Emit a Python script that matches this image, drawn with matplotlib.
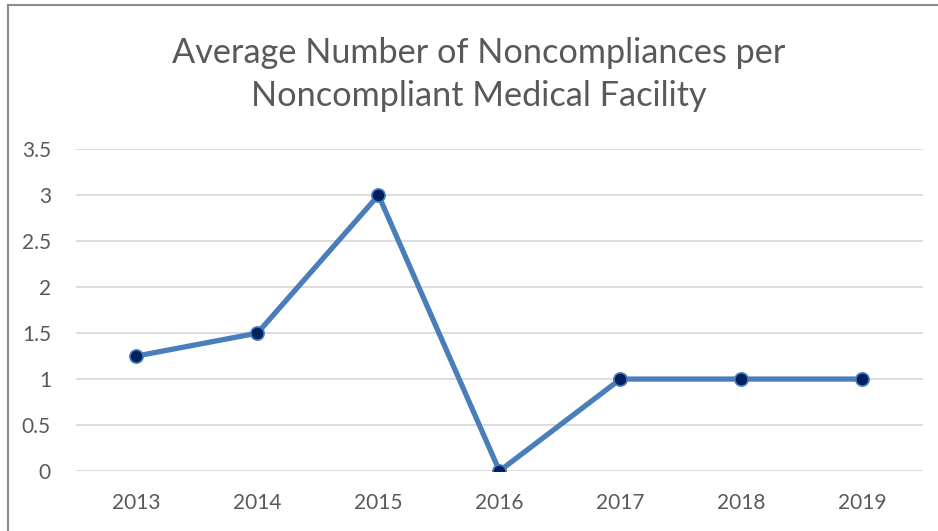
import matplotlib.pyplot as plt
from matplotlib.lines import Line2D

years = ["2013", "2014", "2015", "2016", "2017", "2018", "2019"]
avg_noncompliances = [1.25, 1.5, 3, 0, 1, 1, 1]
y_ticks = [0, 0.5, 1, 1.5, 2, 2.5, 3, 3.5]
y_tick_labels = ["0", "0.5", "1", "1.5", "2", "2.5", "3", "3.5"]

plt.rcParams["font.family"] = ["Lato", "DejaVu Sans"]

fig = plt.figure(figsize=(9.38, 5.31), dpi=100)
ax = fig.add_axes([0.081, 0.113, 0.903, 0.606])

x = range(len(years))
ax.plot(x, avg_noncompliances, color="#4a7ebb", linewidth=3.8,
        marker="o", markersize=9.5, markerfacecolor="#002060",
        markeredgecolor="#4a7ebb", markeredgewidth=1.2, zorder=3)

ax.set_xlim(-0.5, len(years) - 0.5)
ax.set_ylim(0, 3.5)
ax.set_xticks(list(x))
ax.set_xticklabels(years)
ax.set_yticks(y_ticks)
ax.set_yticklabels(y_tick_labels)
ax.tick_params(length=0, labelsize=15, colors="#595959")
ax.tick_params(axis="x", pad=16)
ax.tick_params(axis="y", pad=18)
for lbl in ax.get_yticklabels():
    lbl.set_horizontalalignment("right")
ax.grid(axis="y", color="#d9d9d9", linewidth=1.3)
ax.set_axisbelow(True)
for s in ax.spines.values():
    s.set_visible(False)

fig.text(0.51, 0.86, "Average Number of Noncompliances per\nNoncompliant Medical Facility",
         ha="center", va="center", fontsize=24.7, color="#595959", linespacing=1.42)

# chart frame (left and top edges visible)
fig.add_artist(Line2D([8 / 938, 8 / 938], [0, 1 - 5 / 531], transform=fig.transFigure,
                      color="#8c8c8c", linewidth=1.5))
fig.add_artist(Line2D([8 / 938, 1], [1 - 5 / 531, 1 - 5 / 531], transform=fig.transFigure,
                      color="#8c8c8c", linewidth=1.5))

fig.savefig("out.png", dpi=100)
